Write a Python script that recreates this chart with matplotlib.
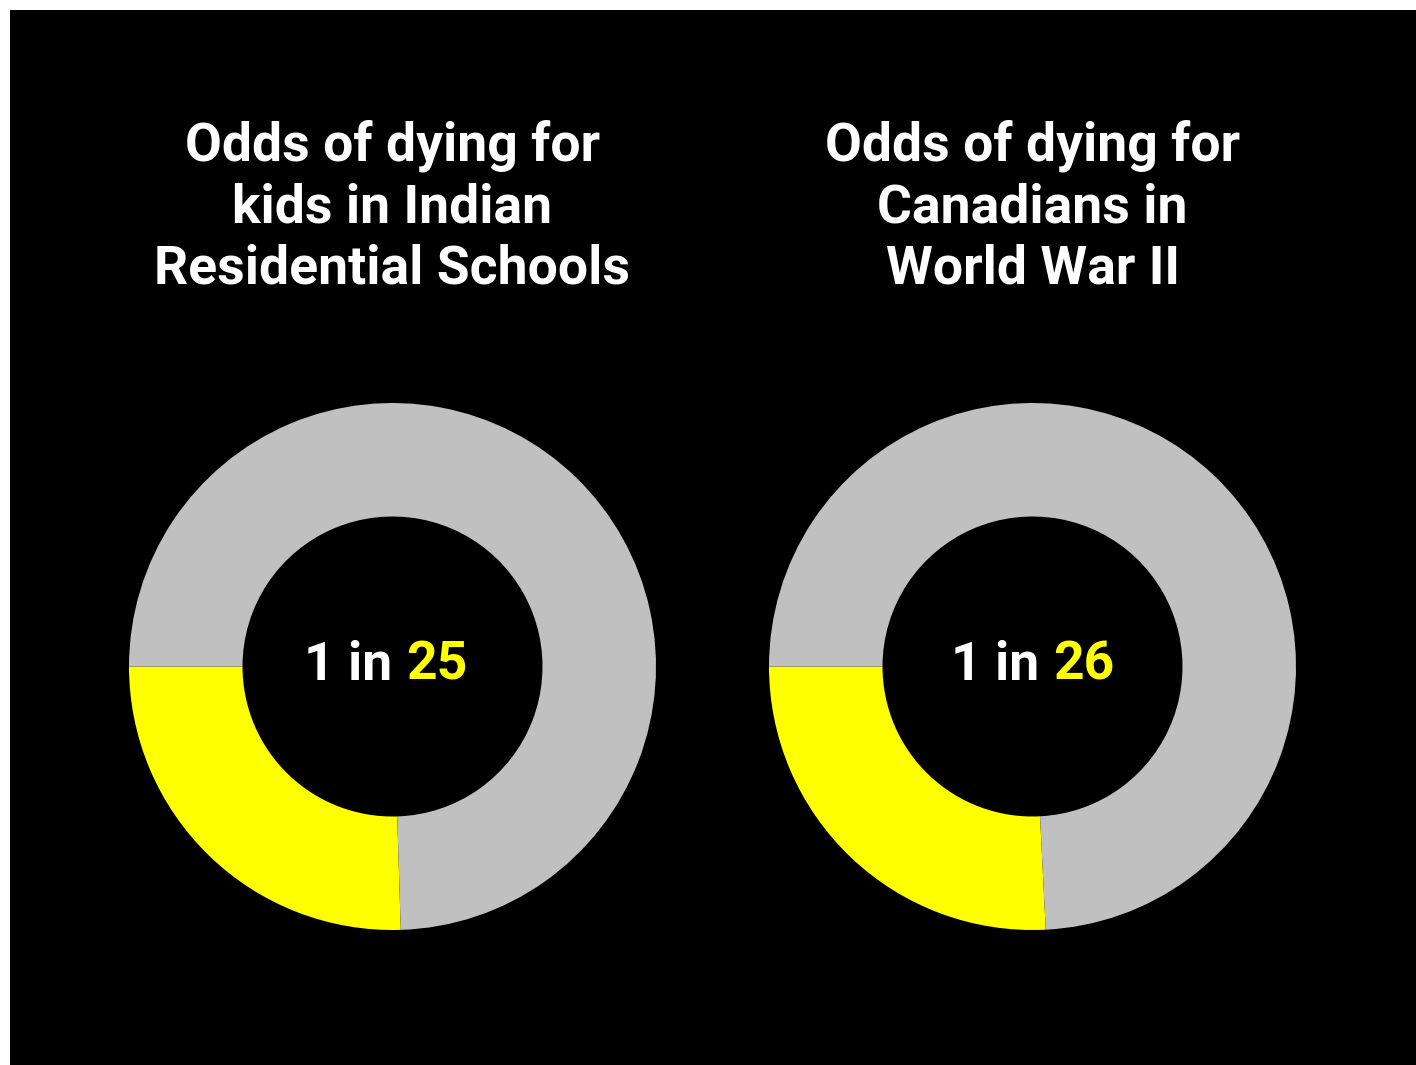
import matplotlib
matplotlib.use("Agg")
import matplotlib.pyplot as plt
from matplotlib.patches import Rectangle

# Data
titles = ["Odds of dying for\nkids in Indian\nResidential Schools",
          "Odds of dying for\nCanadians in\nWorld War II"]
odds = [25, 26]
yellow_share = [25.5, 25.8]   # % of ring drawn in yellow
grey_share = [100 - v for v in yellow_share]

YELLOW = "#FFFF00"
GREY = "#C0C0C0"
W, H = 1416, 1065

fig = plt.figure(figsize=(W / 100, H / 100), dpi=100)
fig.patch.set_facecolor("white")
fig.patches.append(Rectangle((10 / W, 0), 1 - 10 / W, (H - 10) / H,
                             transform=fig.transFigure, facecolor="black",
                             edgecolor="none", zorder=-10))

centers_x = [392.5, 1032.5]
label_shift = [-7, 0]
cy = H - 666.5
R = 263.5
font = "Roboto"
FS = 38.5

renderer = fig.canvas.get_renderer()
for i in range(2):
    cx = centers_x[i]
    ax = fig.add_axes([(cx - R) / W, (cy - R) / H, 2 * R / W, 2 * R / H])
    ax.patch.set_visible(False)
    ax.pie([yellow_share[i], grey_share[i]], colors=[YELLOW, GREY],
           startangle=180, counterclock=True, radius=1,
           wedgeprops=dict(width=1 - 150 / 263.5, edgecolor="none", linewidth=0))
    ax.set_xlim(-1, 1)
    ax.set_ylim(-1, 1)
    ax.set_aspect("equal")
    ax.axis("off")

    fig.text(cx / W, (H - 207) / H, titles[i], ha="center", va="center",
             color="white", fontsize=FS, fontweight="bold", family=font,
             linespacing=1.25)

    # center label "1 in NN"
    t1 = fig.text(0, 0, "1 in ", color="white", fontsize=FS,
                  fontweight="bold", family=font, va="baseline")
    t2 = fig.text(0, 0, str(odds[i]), color=YELLOW, fontsize=FS,
                  fontweight="bold", family=font, va="baseline")
    w1 = t1.get_window_extent(renderer).width
    w2 = t2.get_window_extent(renderer).width
    total = w1 + w2
    xs = cx + label_shift[i] - total / 2
    base = H - 680
    t1.set_position((xs / W, base / H))
    t2.set_position(((xs + w1) / W, base / H))

fig.savefig("out.png", dpi=100, facecolor=fig.get_facecolor())
